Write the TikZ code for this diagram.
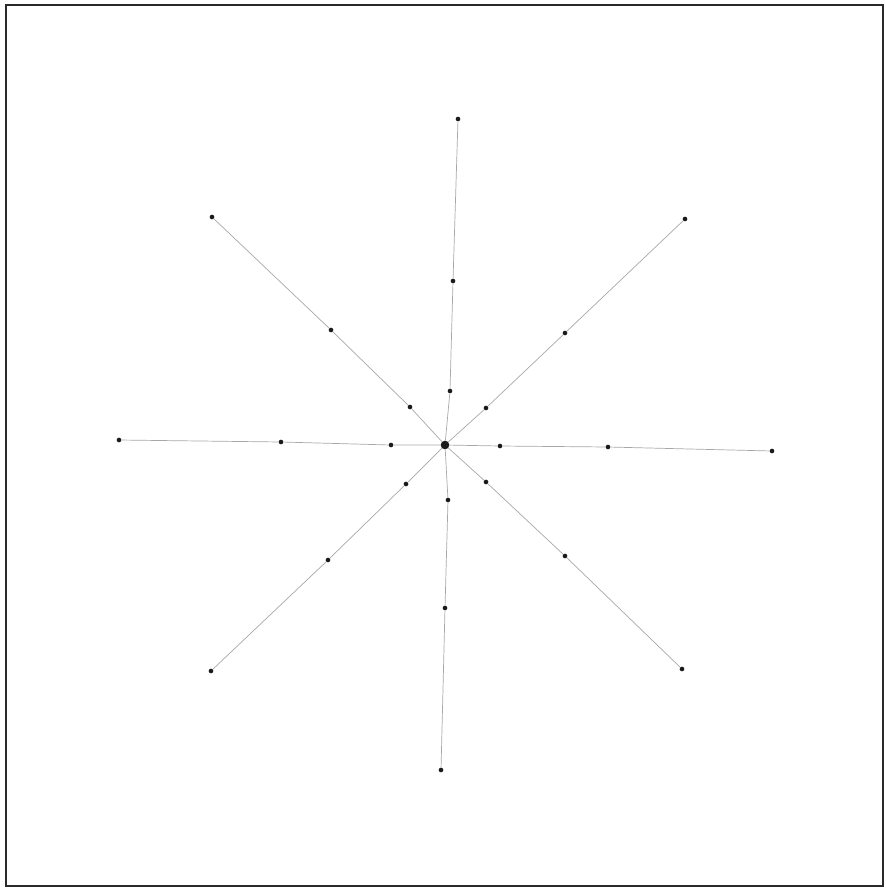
\documentclass[tikz,border=0pt]{standalone}
\usetikzlibrary{positioning}
\definecolor{starInk}{HTML}{1A1A1A}
\definecolor{starGray}{HTML}{A8A8A8}
\definecolor{frameInk}{HTML}{2A2A2A}
\tikzset{
  star frame/.style={draw=frameInk, line width=2pt},
  star ray/.style={draw=starGray, line width=0.6pt},
  star dot/.style={circle, fill=starInk, inner sep=0pt, minimum size=1.4mm},
  star hub/.style={circle, fill=starInk, inner sep=0pt, minimum size=2.6mm}
}

\begin{document}
\begin{tikzpicture}[x=0.03cm,y=-0.03cm]
  \useasboundingbox (0,0) rectangle (885,892);
  \draw[star frame] (6,5) rectangle (883,886);
  \node[star hub] (hub) at (445,445) {};
  % rays: name / inner / middle / outer dot
  \foreach \r/\ax/\ay/\bx/\by/\cx/\cy in {
      n/450/391/453/281/458/119,
      s/448/500/445/608/441/770,
      w/391/445/281/442/119/440,
      e/500/446/608/447/772/451,
      nw/410/407/331/330/212/217,
      ne/486/408/565/333/685/219,
      sw/406/484/328/560/211/671,
      se/486/482/565/556/682/669}{
    \node[star dot] (\r1) at (\ax,\ay) {};
    \node[star dot] (\r2) at (\bx,\by) {};
    \node[star dot] (\r3) at (\cx,\cy) {};
    \draw[star ray] (hub) -- (\r1) -- (\r2) -- (\r3);
  }
\end{tikzpicture}
\end{document}
